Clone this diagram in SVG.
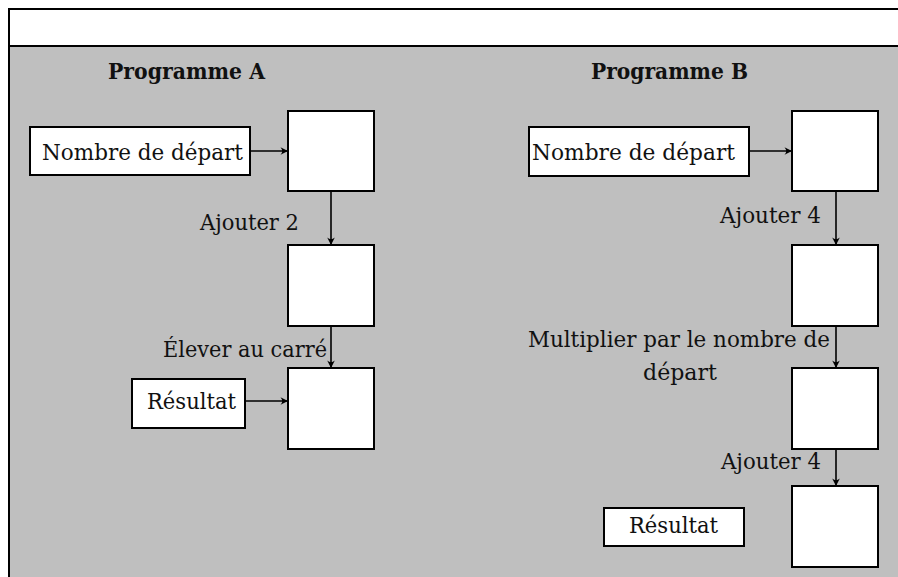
<svg xmlns="http://www.w3.org/2000/svg" width="898" height="577" viewBox="0 0 898 577">
<style>
.frame{fill:none;stroke:#000;stroke-width:2}
.box{fill:#fff;stroke:#000;stroke-width:2}
.lbl{font-family:"DejaVu Serif","Liberation Serif",serif;font-size:22.5px;fill:#111}
.ttl{font-family:"DejaVu Serif","Liberation Serif",serif;font-size:21.5px;font-weight:bold;fill:#111}
.conn{fill:none;stroke:#000;stroke-width:1.6}
</style>
<defs>
<marker id="arr" markerUnits="userSpaceOnUse" markerWidth="12" markerHeight="10" viewBox="-8 -5 9 10" refX="0" refY="0" orient="auto">
<path d="M0,0 L-7.5,-3.8 Q-4,0 -7.5,3.8 Z" fill="#000"/>
</marker>
</defs>
<rect x="0" y="0" width="898" height="577" fill="#fff"/>
<rect x="9" y="46" width="889" height="531" fill="#bfbfbf"/>
<g id="frame">
<line class="frame" x1="9" y1="9" x2="898" y2="9"/>
<line class="frame" x1="9" y1="46" x2="898" y2="46"/>
<line class="frame" x1="9" y1="8" x2="9" y2="577"/>
</g>
<text class="ttl" x="108" y="79" textLength="157" lengthAdjust="spacingAndGlyphs">Programme A</text>
<text class="ttl" x="591" y="79" textLength="157" lengthAdjust="spacingAndGlyphs">Programme B</text>

<g id="connectors">
<line class="conn" x1="250" y1="151" x2="288" y2="151" marker-end="url(#arr)"/>
<line class="conn" x1="331" y1="191" x2="331" y2="245" marker-end="url(#arr)"/>
<line class="conn" x1="331" y1="326" x2="331" y2="368" marker-end="url(#arr)"/>
<line class="conn" x1="245" y1="401" x2="288" y2="401" marker-end="url(#arr)"/>
<line class="conn" x1="749" y1="151" x2="792" y2="151" marker-end="url(#arr)"/>
<line class="conn" x1="836" y1="191" x2="836" y2="245" marker-end="url(#arr)"/>
<line class="conn" x1="836" y1="326" x2="836" y2="368" marker-end="url(#arr)"/>
<line class="conn" x1="836" y1="449" x2="836" y2="486" marker-end="url(#arr)"/>
</g>

<g id="a-start">
<rect class="box" x="30" y="127" width="220" height="48"/>
<text class="lbl" x="42" y="160" textLength="201" lengthAdjust="spacingAndGlyphs">Nombre de départ</text>
</g>
<g id="a-box1"><rect class="box" x="288" y="111" width="86" height="80"/></g>
<g id="a-box2"><rect class="box" x="288" y="245" width="86" height="81"/></g>
<g id="a-box3"><rect class="box" x="288" y="368" width="86" height="81"/></g>
<g id="a-result">
<rect class="box" x="132" y="379" width="113" height="49"/>
<text class="lbl" x="147" y="409" textLength="89" lengthAdjust="spacingAndGlyphs">Résultat</text>
</g>
<text class="lbl" x="200" y="230" textLength="99" lengthAdjust="spacingAndGlyphs">Ajouter 2</text>
<text class="lbl" x="163" y="357" textLength="164" lengthAdjust="spacingAndGlyphs">Élever au carré</text>

<g id="b-start">
<rect class="box" x="529" y="127" width="220" height="49"/>
<text class="lbl" x="532" y="160" textLength="203" lengthAdjust="spacingAndGlyphs">Nombre de départ</text>
</g>
<g id="b-box1"><rect class="box" x="792" y="111" width="86" height="80"/></g>
<g id="b-box2"><rect class="box" x="792" y="245" width="86" height="81"/></g>
<g id="b-box3"><rect class="box" x="792" y="368" width="86" height="81"/></g>
<g id="b-box4"><rect class="box" x="792" y="486" width="86" height="81"/></g>
<g id="b-result">
<rect class="box" x="604" y="508" width="140" height="38"/>
<text class="lbl" x="629" y="533" textLength="89" lengthAdjust="spacingAndGlyphs">Résultat</text>
</g>
<text class="lbl" x="720" y="223" textLength="101" lengthAdjust="spacingAndGlyphs">Ajouter 4</text>
<text class="lbl" x="528" y="347" textLength="302" lengthAdjust="spacingAndGlyphs">Multiplier par le nombre de</text>
<text class="lbl" x="643" y="380" textLength="74" lengthAdjust="spacingAndGlyphs">départ</text>
<text class="lbl" x="721" y="469" textLength="100" lengthAdjust="spacingAndGlyphs">Ajouter 4</text>
</svg>
